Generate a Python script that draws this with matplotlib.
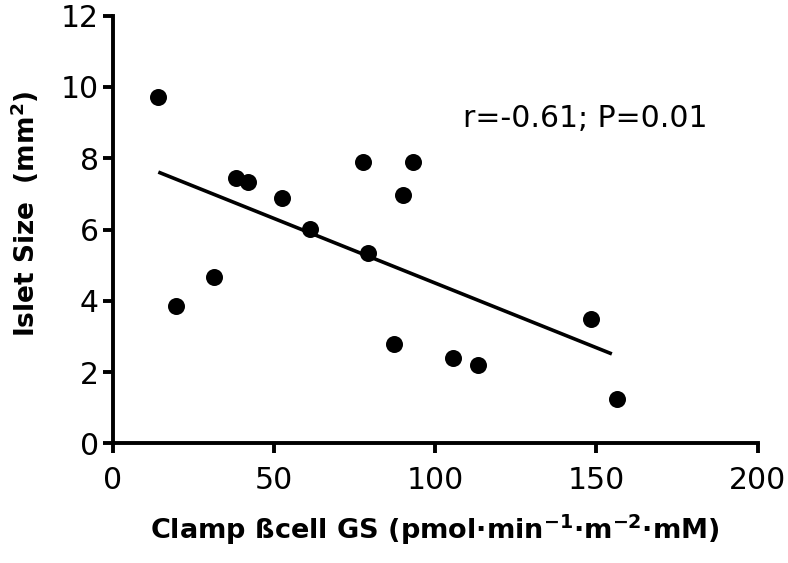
import numpy as np
import matplotlib
matplotlib.use('Agg')
import matplotlib.pyplot as plt

# values
gs = [14.2, 19.6, 31.5, 38.3, 42.1, 52.4, 61.2, 77.7, 79.1, 87.3, 90.1, 93.2, 105.5, 113.2, 148.2, 156.3]
islet = [9.73, 3.85, 4.68, 7.44, 7.33, 6.88, 6.01, 7.90, 5.33, 2.79, 6.97, 7.90, 2.39, 2.20, 3.49, 1.23]
xticks = [0, 50, 100, 150, 200]
yticks = [0, 2, 4, 6, 8, 10, 12]
stat_text = 'r=-0.61; P=0.01'

plt.rcParams['font.family'] = ['DejaVu Sans']

fig = plt.figure(figsize=(7.88, 5.63), dpi=100)
ax = fig.add_axes([0.1428, 0.2126, 0.8187, 0.7595])

ax.scatter(gs, islet, s=150, color='black', zorder=3, linewidths=0)

# linear regression line over the data range
x = np.array(gs)
slope, icpt = np.polyfit(x, np.array(islet), 1)
xl = np.array([x.min(), x.max() - 1.5])
ax.plot(xl, slope*xl + icpt, color='black', lw=2.6, solid_capstyle='butt')

ax.text(108.5, 8.89, stat_text, fontsize=21.5, ha='left', va='baseline')

ax.set_xlim(0, 200)
ax.set_ylim(0, 12)
ax.set_xticks(xticks)
ax.set_yticks(yticks)

for s in ['top', 'right']:
    ax.spines[s].set_visible(False)
for s in ['left', 'bottom']:
    ax.spines[s].set_linewidth(2.8)
    ax.spines[s].set_capstyle('projecting')

ax.tick_params(axis='both', direction='out', length=7, width=2.8, labelsize=21.5)
ax.tick_params(axis='x', pad=9)
ax.tick_params(axis='y', pad=3)

ax.set_xlabel(r'Clamp ßcell GS (pmol·min$^{\mathbf{-1}}$·m$^{\mathbf{-2}}$·mM)',
              fontsize=19.5, fontweight='bold', va='center')
ax.set_ylabel(r'Islet Size  (mm$^{\mathbf{2}}$)', fontsize=19, fontweight='bold', va='center')
ax.xaxis.set_label_coords(0.5, -0.203)
ax.yaxis.set_label_coords(-0.136, 0.536)

fig.savefig('out.png', dpi=100)
